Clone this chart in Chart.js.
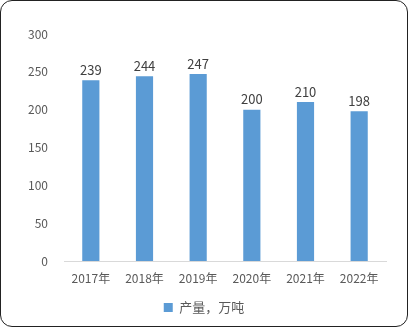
<!DOCTYPE html>
<html>
<head>
<meta charset="utf-8">
<script src="https://cdn.jsdelivr.net/npm/chart.js@4"></script>
<style>
html,body{margin:0;padding:0;background:#fff;}
#box{position:absolute;left:0;top:0;width:406px;height:325px;border:1px solid #222;border-radius:12px;overflow:hidden;background:#fff;}
canvas{display:block;}
</style>
</head>
<body>
<div id="box"><canvas id="c" width="406" height="325"></canvas></div>
<script>
let years=["2017年","2018年","2019年","2020年","2021年","2022年"]
let output=[239,244,247,200,210,198]
let seriesName="产量，万吨"

let font="'Noto Sans CJK SC', 'Noto Sans', sans-serif"

/* value labels above bars */
let valueLabels={
id:"valueLabels",
afterDatasetsDraw(chart){
let ctx=chart.ctx
let meta=chart.getDatasetMeta(0)
ctx.save()
ctx.fillStyle="#404040"
ctx.font="13px "+font
ctx.textAlign="center"
ctx.textBaseline="bottom"
meta.data.forEach((bar,i)=>{
ctx.fillText(output[i],bar.x,bar.y-4)
})
ctx.restore()
}
}

new Chart(document.getElementById("c"),{
type:"bar",
data:{
labels:years,
datasets:[{
label:seriesName,
data:output,
backgroundColor:"#5B9BD5",
categoryPercentage:1,
barPercentage:0.32
}]
},
options:{
responsive:false,
animation:false,
layout:{padding:{top:33,right:0,left:0,bottom:2}},
plugins:{
legend:{
position:"bottom",
labels:{
boxWidth:9,boxHeight:9,
color:"#595959",
font:{family:font,size:13},
padding:10
}
},
tooltip:{enabled:false}
},
scales:{
x:{
grid:{display:false,drawTicks:false},
border:{color:"#d9d9d9",width:1},
ticks:{color:"#595959",font:{family:font,size:12},padding:10},
afterFit(s){s.height=30}
},
y:{
min:0,max:300,
ticks:{stepSize:50,color:"#595959",font:{family:font,size:12},padding:16},
grid:{display:false,drawTicks:false},
border:{display:false},
afterFit(s){s.width=63}
},
spacer:{
position:"right",
display:true,
ticks:{display:false},
grid:{display:false,drawTicks:false},
border:{display:false},
afterFit(s){s.width=21}
}
}
},
plugins:[valueLabels]
})
</script>
</body>
</html>
